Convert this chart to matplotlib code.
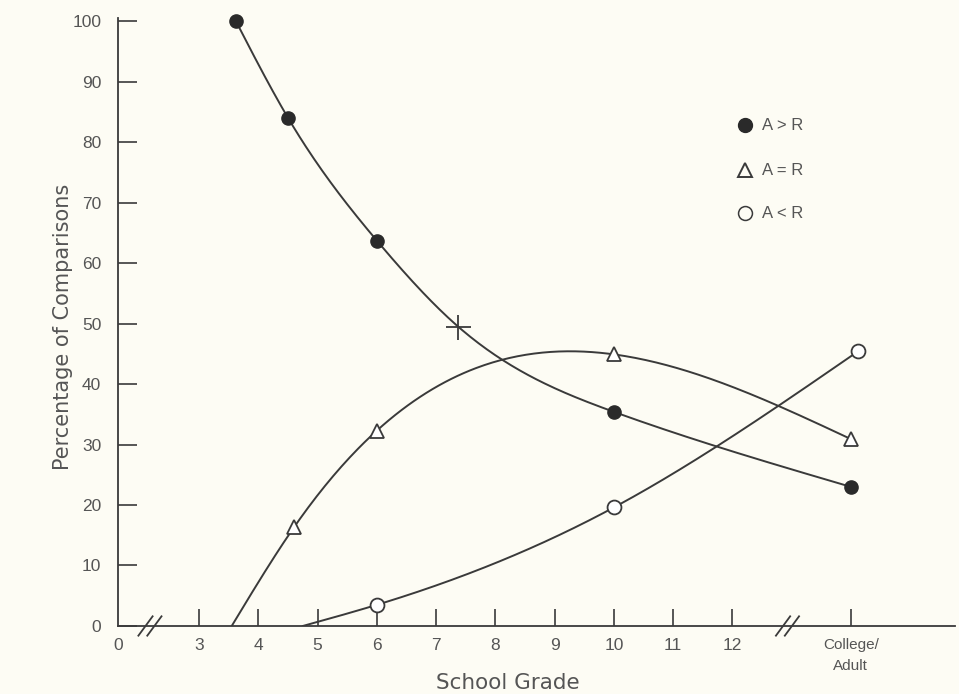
import numpy as np
import matplotlib
matplotlib.use("Agg")
import matplotlib.pyplot as plt

# ---- data ----
tick_pos = [1.63, 3, 4, 5, 6, 7, 8, 9, 10, 11, 12, 14]
tick_labels = ["0", "3", "4", "5", "6", "7", "8", "9", "10", "11", "12", "College/\nAdult"]

gt_x = [3.62, 4.5, 6, 10, 14]
gt_y = [100, 84, 63.7, 35.4, 23]
cross_x = [7.37]
cross_y = [49.5]

eq_x = [4.6, 6, 10, 14]
eq_y = [16.3, 32.3, 44.9, 30.9]
eq_start_x = [3.55]
eq_start_y = [0]

lt_x = [6, 10, 14.12]
lt_y = [3.5, 19.6, 45.4]
lt_start_x = [4.75]
lt_start_y = [0]

break_pos = [2.17, 12.93]
legend_labels = ["A > R", "A = R", "A < R"]

INK = "#3a3a3a"
TXT = "#555555"
BG = "#fdfcf4"


def natural_spline(xs, ys, n=300):
    xs = np.asarray(xs, float)
    ys = np.asarray(ys, float)
    k = len(xs)
    h = np.diff(xs)
    A = np.zeros((k, k))
    b = np.zeros(k)
    A[0, 0] = 1
    A[-1, -1] = 1
    for i in range(1, k - 1):
        A[i, i - 1] = h[i - 1]
        A[i, i] = 2 * (h[i - 1] + h[i])
        A[i, i + 1] = h[i]
        b[i] = 6 * ((ys[i + 1] - ys[i]) / h[i] - (ys[i] - ys[i - 1]) / h[i - 1])
    M = np.linalg.solve(A, b)
    xx = np.linspace(xs[0], xs[-1], n)
    idx = np.clip(np.searchsorted(xs, xx) - 1, 0, k - 2)
    x0, x1 = xs[idx], xs[idx + 1]
    y0, y1 = ys[idx], ys[idx + 1]
    m0, m1 = M[idx], M[idx + 1]
    hh = x1 - x0
    t1 = x1 - xx
    t0 = xx - x0
    yy = (m0 * t1 ** 3 + m1 * t0 ** 3) / (6 * hh) + (y0 / hh - m0 * hh / 6) * t1 + (y1 / hh - m1 * hh / 6) * t0
    return xx, yy


plt.rcParams['font.family'] = ['Liberation Sans', 'DejaVu Sans']

fig = plt.figure(figsize=(9.59, 6.94), dpi=100, facecolor=BG)
ax = fig.add_axes([0.123, 0.098, 0.873, 0.876])
ax.set_facecolor(BG)

# curves
pairs = sorted(zip(gt_x + cross_x, gt_y + cross_y))
xx, yy = natural_spline([p[0] for p in pairs], [p[1] for p in pairs])
ax.plot(xx, yy, color=INK, lw=1.4, zorder=2)
xx, yy = natural_spline(eq_start_x + eq_x, eq_start_y + eq_y)
ax.plot(xx, yy, color=INK, lw=1.4, zorder=2)
xx, yy = natural_spline(lt_start_x + lt_x, lt_start_y + lt_y)
ax.plot(xx, yy, color=INK, lw=1.4, zorder=2)

# markers
ax.plot(gt_x, gt_y, 'o', ms=9.5, color="#2a2a2a", mec="#2a2a2a", zorder=3, clip_on=False)
ax.plot(eq_x, eq_y, '^', ms=10, mfc="white", mec=INK, mew=1.3, zorder=3, clip_on=False)
ax.plot(lt_x, lt_y, 'o', ms=10, mfc="white", mec=INK, mew=1.3, zorder=3, clip_on=False)
ax.plot(cross_x, cross_y, '+', ms=18, color=INK, mew=1.3, zorder=3)

# axes styling
ax.set_xlim(1.63, 15.76)
ax.set_ylim(0, 100.5)
for s in ["top", "right"]:
    ax.spines[s].set_visible(False)
for s in ["left", "bottom"]:
    ax.spines[s].set_color(INK)
    ax.spines[s].set_linewidth(1.3)

ax.set_xticks(tick_pos)
ax.set_xticklabels(tick_labels)
ax.set_yticks(np.arange(0, 101, 10))
ax.tick_params(axis='x', direction='in', length=12, width=1.2, color=INK,
               labelcolor=TXT, labelsize=12.5, pad=9)
ax.tick_params(axis='y', direction='in', length=14, width=1.2, color=INK,
               labelcolor=TXT, labelsize=12.5, pad=12)
xt = ax.get_xticklabels()
xt[-1].set_fontsize(11)
xt[-1].set_linespacing(1.55)
ax.xaxis.get_major_ticks()[0].tick1line.set_visible(False)

ax.set_xlabel("School Grade", color=TXT, fontsize=15.5, family=['DejaVu Sans'])
ax.xaxis.set_label_coords((508 - 118) / 837, -(683 - 626) / 608, transform=ax.transAxes)
ax.xaxis.label.set_va('center')
ax.set_ylabel("Percentage of Comparisons", color=TXT, fontsize=15, family=['DejaVu Sans'])
ax.yaxis.set_label_coords(-(118 - 63) / 837, (626 - 327) / 608, transform=ax.transAxes)
ax.yaxis.label.set_va('center')

# axis break marks
for bp in break_pos:
    for off in (-0.075, 0.075):
        ax.plot([bp + off - 0.12, bp + off + 0.12], [-1.6, 1.6], color=INK, lw=1.3,
                clip_on=False, zorder=4)

# legend (drawn manually)
leg_y = [0.824, 0.750, 0.679]
ax.plot([0.749], [leg_y[0]], 'o', ms=10, color="#2a2a2a", transform=ax.transAxes)
ax.plot([0.749], [leg_y[1]], '^', ms=10, mfc="none", mec=INK, mew=1.4, transform=ax.transAxes)
ax.plot([0.749], [leg_y[2]], 'o', ms=10, mfc="none", mec=INK, mew=1.1, transform=ax.transAxes)
for lab, yv in zip(legend_labels, leg_y):
    ax.text(0.769, yv, lab, transform=ax.transAxes, va='center', ha='left',
            fontsize=12, color=TXT)

fig.savefig("out.png", dpi=100, facecolor=BG)
